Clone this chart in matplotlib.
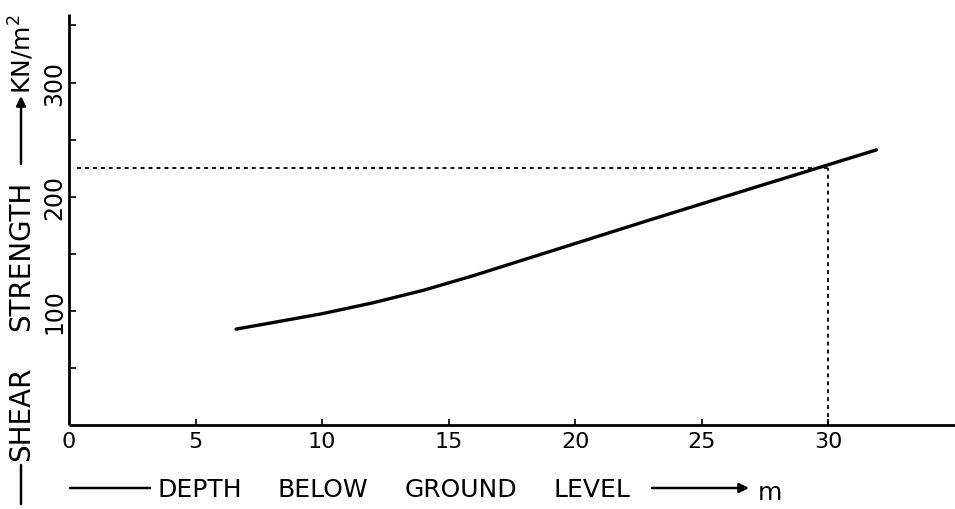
import matplotlib
matplotlib.use("Agg")
import matplotlib.pyplot as plt

# Data
depth = [6.6, 8, 10, 12, 14, 16, 19, 23, 27, 30, 31.9]
strength = [84, 89.5, 97.5, 107, 118, 131, 152, 180, 207.5, 228, 241]
x_ticks = [0, 5, 10, 15, 20, 25, 30]
y_ticks = [100, 200, 300]
y_minor = [50, 150, 250, 350]
read_depth = 30
read_strength = 225

W, H = 955, 510
fig = plt.figure(figsize=(W / 100, H / 100), dpi=100)
plt.rcParams['font.family'] = ['DejaVu Sans']

# axes placement in pixels: left 69, right 955, bottom 426, top 15
ax = fig.add_axes([69 / W, (H - 426) / H, (955 - 69) / W, (426 - 15) / H])
ax.set_xlim(0, 35)
ax.set_ylim(0, 360)

for s in ['top', 'right']:
    ax.spines[s].set_visible(False)
for s in ['left', 'bottom']:
    ax.spines[s].set_linewidth(2.0)
    ax.spines[s].set_capstyle('butt')

ax.plot(depth, strength, color='black', lw=2.4, solid_capstyle='round',
        solid_joinstyle='round')

# dotted reading lines
ax.plot([0.3, read_depth], [read_strength, read_strength], color='black',
        lw=1.3, linestyle=(0, (2.2, 2.2)))
ax.plot([read_depth, read_depth], [0, read_strength], color='black',
        lw=1.3, linestyle=(0, (2.2, 2.2)))

ax.set_xticks(x_ticks)
ax.set_xticklabels([str(v) for v in x_ticks], fontsize=16)
ax.set_yticks(y_ticks)
ax.set_yticklabels([str(v) for v in y_ticks], fontsize=17, rotation=90,
                   va='center')
ax.set_yticks(y_minor, minor=True)
ax.tick_params(axis='x', direction='in', length=4, width=1.2, pad=4)
ax.tick_params(axis='y', which='both', direction='in', length=5, width=1.2,
               pad=2)
ax.xaxis.set_minor_locator(plt.NullLocator())


def fx(px):
    return px / W


def fy(py):
    return (H - py) / H


# ---- x axis title pieces ----
ax.annotate('', xy=(150, H - 489), xytext=(70, H - 489),
            xycoords='figure pixels', textcoords='figure pixels',
            arrowprops=dict(arrowstyle='-', lw=1.8, color='black',
                            shrinkA=0, shrinkB=0))
for word, px in [('DEPTH', 157), ('BELOW', 278), ('GROUND', 405),
                 ('LEVEL', 553)]:
    fig.text(fx(px), fy(490), word, fontsize=18, ha='left', va='center')
ax.annotate('', xy=(749, H - 489), xytext=(652, H - 489),
            xycoords='figure pixels', textcoords='figure pixels',
            arrowprops=dict(arrowstyle='-|>', lw=1.8, color='black',
                            shrinkA=0, shrinkB=0, mutation_scale=14))
fig.text(fx(758), fy(493), 'm', fontsize=18, ha='left', va='center')

# ---- y axis title pieces ----
ax.annotate('', xy=(21, H - 466), xytext=(21, H - 505),
            xycoords='figure pixels', textcoords='figure pixels',
            arrowprops=dict(arrowstyle='-', lw=1.8, color='black',
                            shrinkA=0, shrinkB=0))
fig.text(fx(21), fy(461), 'SHEAR', fontsize=20, rotation=90,
         ha='center', va='bottom')
fig.text(fx(21), fy(331), 'STRENGTH', fontsize=20, rotation=90,
         ha='center', va='bottom')
ax.annotate('', xy=(21, H - 97), xytext=(21, H - 165),
            xycoords='figure pixels', textcoords='figure pixels',
            arrowprops=dict(arrowstyle='-|>', lw=1.8, color='black',
                            shrinkA=0, shrinkB=0, mutation_scale=14))
fig.text(fx(21), fy(94), 'KN/m$^2$', fontsize=18, rotation=90,
         ha='center', va='bottom')

fig.savefig('out.png', dpi=100)
